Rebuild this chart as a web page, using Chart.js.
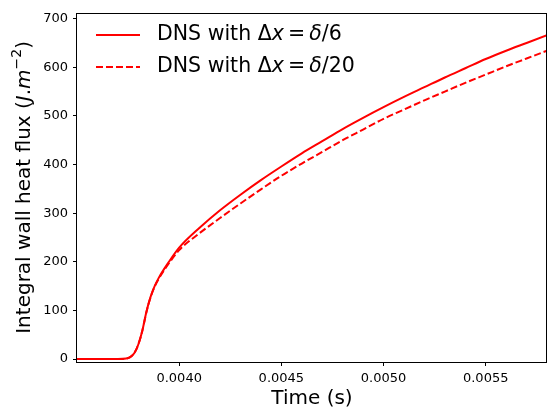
<!DOCTYPE html>
<html>
<head>
<meta charset="utf-8">
<script src="https://cdn.jsdelivr.net/npm/chart.js@4/dist/chart.umd.min.js"></script>
<style>
  html, body { margin: 0; padding: 0; background: #fff; }
  #wrap { width: 547px; height: 415px; }
</style>
</head>
<body>
<div id="wrap"><canvas id="myChart" width="547" height="415"></canvas></div>
<script>
var times = [0.00350, 0.00360, 0.00370, 0.00374, 0.00376, 0.00378, 0.00380, 0.00382, 0.00384,
  0.00386, 0.00388, 0.00390, 0.00395, 0.00400, 0.00410, 0.00420, 0.00430, 0.00440, 0.00450,
  0.00460, 0.00470, 0.00480, 0.00490, 0.00500, 0.00510, 0.00520, 0.00530, 0.00540, 0.00550,
  0.00560, 0.00570, 0.00580];
var fluxCoarse = [0, 0, 0, 1, 4, 12, 30, 59, 98,
  128, 150, 167, 200, 229, 270, 306, 338, 368, 396,
  423, 448, 473, 496, 518, 539, 559, 579, 598, 617,
  634, 650, 666];
var fluxFine = [0, 0, 0, 1, 4, 12, 30, 59, 97,
  127, 149, 165, 197, 224, 259, 290, 320, 349, 377,
  402, 426, 450, 472, 494, 513, 532, 550, 568, 585,
  602, 618, 634];
var xTicks = [0.0040, 0.0045, 0.0050, 0.0055];
var yTicks = [0, 100, 200, 300, 400, 500, 600, 700];
var seriesLabels = ['DNS with \u0394x = \u03b4/6', 'DNS with \u0394x = \u03b4/20'];

var FONT = "'DejaVu Sans', sans-serif";

function toPoints(xs, ys) {
  return xs.map(function(x, i) { return {x: x, y: ys[i]}; });
}

// draws a list of [text, italic, sizeScale, dy] segments left to right
function drawSegments(c, segs, x, y, size) {
  segs.forEach(function(s) {
    var sz = size * (s[2] || 1);
    c.font = (s[1] ? 'italic ' : '') + sz + 'px ' + FONT;
    c.fillText(s[0], x, y + (s[3] || 0) * size);
    x += c.measureText(s[0]).width;
  });
  return x;
}
function segWidth(c, segs, size) {
  var w = 0;
  segs.forEach(function(s) {
    c.font = (s[1] ? 'italic ' : '') + size * (s[2] || 1) + 'px ' + FONT;
    w += c.measureText(s[0]).width;
  });
  return w;
}

var legendSegs = [
  [['DNS with \u0394', false], ['x', true], ['\u2009=\u2009', false], ['\u03b4', true], ['/6', false]],
  [['DNS with \u0394', false], ['x', true], ['\u2009=\u2009', false], ['\u03b4', true], ['/20', false]]
];

var framePlugin = {
  id: 'frame',
  afterDraw: function(chart) {
    var c = chart.ctx, a = chart.chartArea;
    c.save();
    // box
    c.strokeStyle = '#000';
    c.lineWidth = 1;
    c.strokeRect(Math.round(a.left) - 0.5, Math.round(a.top) + 0.5,
      Math.round(a.right - a.left), Math.round(a.bottom - a.top));

    // y axis title with math part
    var ySegs = [['Integral wall heat flux (', false], ['J', true], ['.', false], ['m', true],
      ['\u22122', false, 0.7, -0.38], [')', false]];
    var size = 20;
    var w = segWidth(c, ySegs, size);
    c.translate(25, (a.top + a.bottom) / 2);
    c.rotate(-Math.PI / 2);
    c.fillStyle = '#000';
    c.textBaseline = 'middle';
    c.textAlign = 'left';
    drawSegments(c, ySegs, -w / 2, 0, size);
    c.restore();

    // legend inside the plot
    c.save();
    c.textBaseline = 'middle';
    c.textAlign = 'left';
    chart.data.datasets.forEach(function(ds, i) {
      var y = 35 + i * 32;
      c.strokeStyle = ds.borderColor;
      c.lineWidth = ds.borderWidth;
      c.setLineDash(ds.borderDash || []);
      c.beginPath();
      c.moveTo(96, y);
      c.lineTo(140, y);
      c.stroke();
      c.setLineDash([]);
      c.fillStyle = '#000';
      drawSegments(c, legendSegs[i], 157, y, 20.5);
    });
    c.restore();
  }
};

var ctx = document.getElementById('myChart').getContext('2d');
var myLineChart = new Chart(ctx, {
  type: 'line',
  data: {
    datasets: [
      {
        label: seriesLabels[0],
        data: toPoints(times, fluxCoarse),
        borderColor: '#ff0000',
        borderWidth: 2,
        pointRadius: 0,
        cubicInterpolationMode: 'monotone',
        fill: false
      }, {
        label: seriesLabels[1],
        data: toPoints(times, fluxFine),
        borderColor: '#ff0000',
        borderWidth: 2,
        borderDash: [7, 3],
        pointRadius: 0,
        cubicInterpolationMode: 'monotone',
        fill: false
      }
    ]
  },
  options: {
    responsive: false,
    animation: false,
    events: [],
    layout: { padding: { top: 8, right: 0, left: 0, bottom: 0 } },
    plugins: { legend: { display: false }, tooltip: { enabled: false } },
    scales: {
      x: {
        type: 'linear',
        min: 0.0035,
        max: 0.0058,
        afterFit: function(s) { s.height = 53; },
        afterBuildTicks: function(s) { s.ticks = xTicks.map(function(v) { return {value: v}; }); },
        grid: { drawOnChartArea: false, drawTicks: true, tickLength: 4, color: '#000' },
        border: { display: false },
        ticks: {
          padding: 5,
          color: '#000',
          font: { family: FONT, size: 13 },
          callback: function(v) { return v.toFixed(4); }
        },
        title: {
          display: true,
          text: 'Time (s)',
          color: '#000',
          font: { family: FONT, size: 20 },
          padding: { top: 4, bottom: 4 }
        }
      },
      y: {
        min: -6,
        max: 712,
        afterFit: function(s) { s.width = 77; },
        afterBuildTicks: function(s) { s.ticks = yTicks.map(function(v) { return {value: v}; }); },
        grid: { drawOnChartArea: false, drawTicks: true, tickLength: 4, color: '#000' },
        border: { display: false },
        ticks: {
          padding: 5,
          color: '#000',
          font: { family: FONT, size: 13 }
        }
      }
    }
  },
  plugins: [framePlugin]
});
</script>
</body>
</html>
